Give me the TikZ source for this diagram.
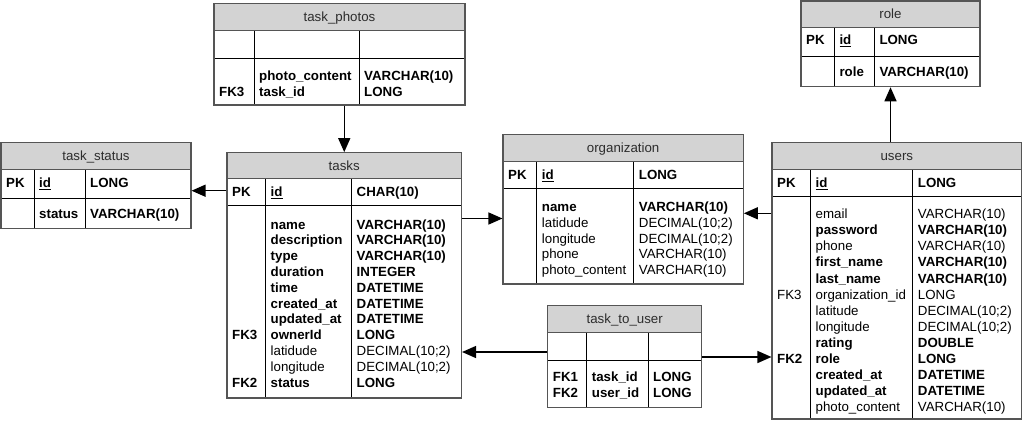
\documentclass[tikz,border=0pt]{standalone}
\usepackage{fontspec}
\setmainfont{Liberation Sans}
\usetikzlibrary{arrows.meta,fit}
\definecolor{hdrfill}{RGB}{211,211,211}
\definecolor{outerc}{RGB}{85,85,85}
\definecolor{hdrtext}{RGB}{45,45,45}
\newcommand\tabfont{\fontsize{13.3}{16}\selectfont}
% name, xl, xc1, xc2, xr, yt, yh, yp, yb
\newcommand\erbox[9]{%
  \fill[hdrfill] (#2,#6) rectangle (#5,#7);
  \draw[inner] (#2,#8) -- (#5,#8);
  \draw[inner] (#3,#7) -- (#3,#9);
  \draw[inner] (#4,#7) -- (#4,#9);
  \draw[hdrline] (#2,#7) -- (#5,#7);
  \coordinate (#1nw) at (#2,#6);
  \coordinate (#1se) at (#5,#9);
  \node[outer, fit=(#1nw)(#1se)] (#1) {};
}
% prefix, x, y0, step, list
\newcommand\colt[5]{%
  \foreach \ct [count=\ci] in {#5} {\node[txt] (#1\ci) at (#2,{#3+#4*(\ci-1)}) {\ct};}%
}
\begin{document}
\begin{tikzpicture}[x=1pt,y=-1pt,
  txt/.style={anchor=base west, inner sep=0pt, font=\tabfont},
  htxt/.style={anchor=base, inner sep=0pt, font=\tabfont, text=hdrtext},
  inner/.style={draw=black, line width=0.9pt},
  hdrline/.style={draw=outerc, line width=0.9pt},
  outer/.style={draw=outerc, line width=1.1pt, inner sep=0pt},
  fk/.style={-{Triangle[length=14pt,width=12pt]}, line width=1.4pt}]
\useasboundingbox (0,0) rectangle (1023,421);

% ---------- task_photos
\erbox{tp}{214}{254}{359}{465}{3.3}{30.7}{58.7}{105}
\node[htxt] (tph) at (339.5,21.5) {task\_photos};
\node[txt] (tpk2) at (219,96.5) {\textbf{FK3}};
\colt{tpn}{259}{80.5}{16}{{\textbf{photo\_content}},{\textbf{task\_id}}}
\colt{tpt}{364}{80.5}{16}{{\textbf{VARCHAR(10)}},{\textbf{LONG}}}

% ---------- task_status
\erbox{ts}{1}{34}{85}{191}{142.7}{169.3}{198.5}{228.3}
\node[htxt] (tsh) at (96,160.5) {task\_status};
\node[txt] (tspk) at (6,187.5) {\textbf{PK}};
\node[txt] (tsid) at (39,187.5) {\underline{\textbf{id}}};
\node[txt] (tsidt) at (90,187.5) {\textbf{LONG}};
\node[txt] (tsst) at (39,218) {\textbf{status}};
\node[txt] (tsstt) at (90,218) {\textbf{VARCHAR(10)}};

% ---------- tasks
\erbox{tk}{227}{265.5}{351.5}{461.5}{152.7}{178}{205}{398}
\node[htxt] (tkh) at (344.25,170) {tasks};
\node[txt] (tkpk) at (232,196.3) {\textbf{PK}};
\node[txt] (tkid) at (270.5,196.3) {\underline{\textbf{id}}};
\node[txt] (tkidt) at (356.5,196.3) {\textbf{CHAR(10)}};
\node[txt] (tkk8) at (232,339.6) {\textbf{FK3}};
\node[txt] (tkk11) at (232,387) {\textbf{FK2}};
\colt{tkn}{270.5}{229}{15.8}{{\textbf{name}},{\textbf{description}},{\textbf{type}},{\textbf{duration}},{\textbf{time}},{\textbf{created\_at}},{\textbf{updated\_at}},{\textbf{ownerId}},latidude,longitude,{\textbf{status}}}
\colt{tkt}{356.5}{229}{15.8}{{\textbf{VARCHAR(10)}},{\textbf{VARCHAR(10)}},{\textbf{VARCHAR(10)}},{\textbf{INTEGER}},{\textbf{DATETIME}},{\textbf{DATETIME}},{\textbf{DATETIME}},{\textbf{LONG}},DECIMAL(10;2),DECIMAL(10;2),{\textbf{LONG}}}

% ---------- organization
\erbox{org}{503}{536.7}{633.7}{743.3}{134.3}{161.5}{188}{284}
\node[htxt] (orgh) at (623.15,152.5) {organization};
\node[txt] (orgpk) at (508,179.5) {\textbf{PK}};
\node[txt] (orgid) at (541.7,179.5) {\underline{\textbf{id}}};
\node[txt] (orgidt) at (638.7,179.5) {\textbf{LONG}};
\colt{orgn}{541.7}{211.5}{15.8}{{\textbf{name}},latidude,longitude,phone,photo\_content}
\colt{orgt}{638.7}{211.5}{15.8}{{\textbf{VARCHAR(10)}},DECIMAL(10;2),DECIMAL(10;2),VARCHAR(10),VARCHAR(10)}

% ---------- role
\erbox{rl}{801}{834.3}{874.3}{980}{1}{27.3}{56.7}{86.7}
\node[htxt] (rlh) at (890.5,18.5) {role};
\node[txt] (rlpk) at (806,44.8) {\textbf{PK}};
\node[txt] (rlid) at (839.3,44.8) {\underline{\textbf{id}}};
\node[txt] (rlidt) at (879.3,44.8) {\textbf{LONG}};
\node[txt] (rlr) at (839.3,76.5) {\textbf{role}};
\node[txt] (rlrt) at (879.3,76.5) {\textbf{VARCHAR(10)}};

% ---------- users
\erbox{us}{772}{810.5}{912.7}{1021.7}{142.7}{169.5}{196}{419}
\node[htxt] (ush) at (896.85,160.6) {users};
\node[txt] (uspk) at (777,187.5) {\textbf{PK}};
\node[txt] (usid) at (815.5,187.5) {\underline{\textbf{id}}};
\node[txt] (usidt) at (917.7,187.5) {\textbf{LONG}};
\node[txt] (usk6) at (777,299.05) {FK3};
\node[txt] (usk10) at (777,363.25) {\textbf{FK2}};
\colt{usn}{815.5}{218.8}{16.05}{email,{\textbf{password}},phone,{\textbf{first\_name}},{\textbf{last\_name}},organization\_id,latitude,longitude,{\textbf{rating}},{\textbf{role}},{\textbf{created\_at}},{\textbf{updated\_at}},photo\_content}
\colt{ust}{917.7}{218.8}{16.05}{VARCHAR(10),{\textbf{VARCHAR(10)}},VARCHAR(10),{\textbf{VARCHAR(10)}},{\textbf{VARCHAR(10)}},LONG,DECIMAL(10;2),DECIMAL(10;2),{\textbf{DOUBLE}},{\textbf{LONG}},{\textbf{DATETIME}},{\textbf{DATETIME}},VARCHAR(10)}

% ---------- task_to_user
\erbox{tu}{547.7}{586.7}{648}{701.7}{305.7}{332.3}{360.7}{407.3}
\node[htxt] (tuh) at (624.7,323.5) {task\_to\_user};
\colt{tuk}{552.7}{381}{16}{{\textbf{FK1}},{\textbf{FK2}}}
\colt{tun}{591.7}{381}{16}{{\textbf{task\_id}},{\textbf{user\_id}}}
\colt{tut}{653}{381}{16}{{\textbf{LONG}},{\textbf{LONG}}}

% ---------- connectors
\draw[fk] (tp.south -| tk.north) -- (tk.north);
\draw[fk] (tk.west |- 0,190.7) -- (ts.east |- 0,190.7);
\draw[fk] (tk.east |- 0,218.5) -- (org.west |- 0,218.5);
\draw[fk] (us.west |- 0,213.3) -- (org.east |- 0,213.3);
\draw[fk] (us.north -| rl.south) -- (rl.south);
\draw[fk] (tu.west |- 0,352) -- (tk.east |- 0,352);
\draw[fk] (tu.east |- 0,357) -- (us.west |- 0,357);
\end{tikzpicture}
\end{document}
